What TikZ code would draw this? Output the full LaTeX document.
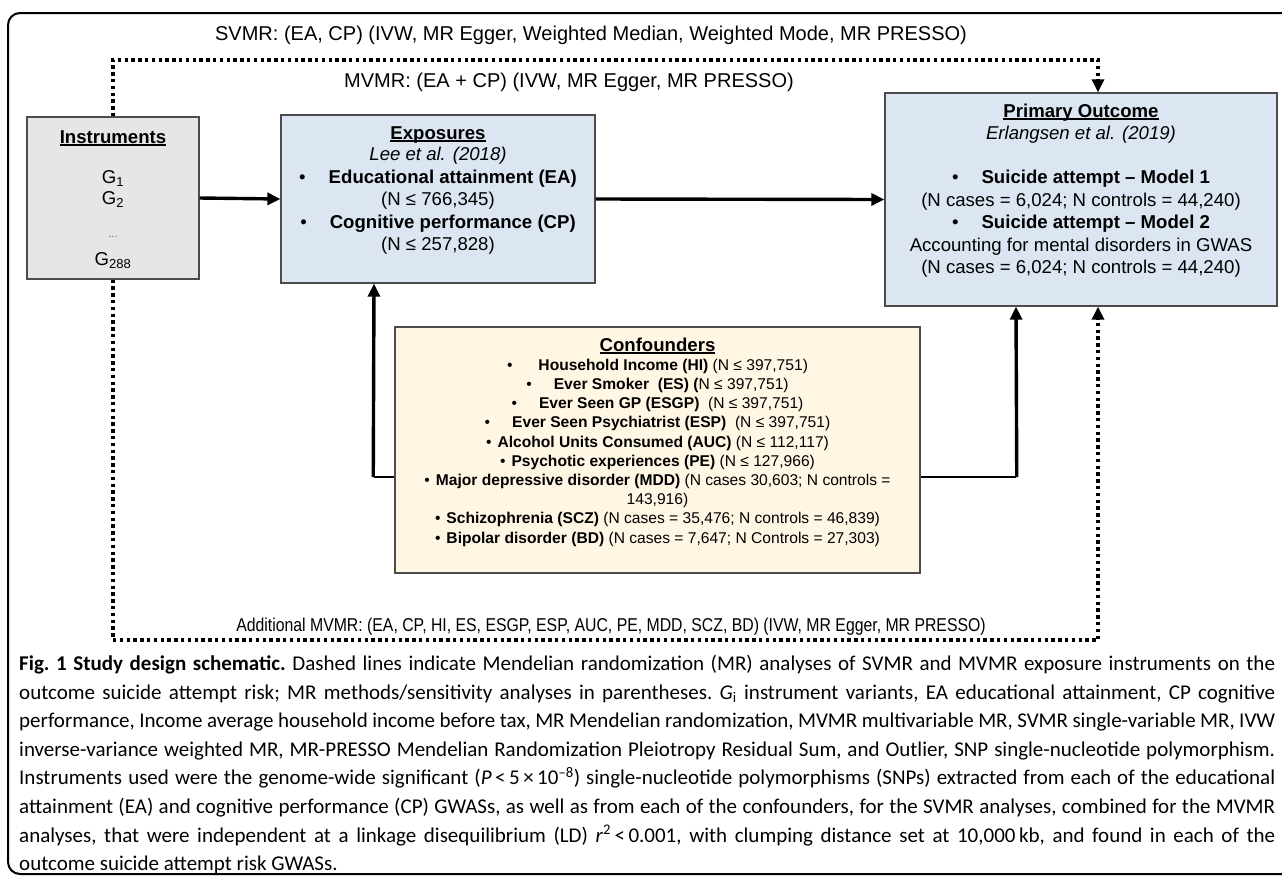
\documentclass[tikz,border=0pt]{standalone}
\usepackage{fontspec}
\setmainfont{Liberation Sans}
\newfontfamily\capfont{Carlito}
\newfontfamily\narrowfont[FakeStretch=0.85]{Liberation Sans}
\usepackage{xcolor}
\usetikzlibrary{arrows.meta}
% underlined box title
\newcommand{\titleul}[1]{\leavevmode\setbox0\hbox{#1}\rlap{\rule[-2.6pt]{\wd0}{1.4pt}}\box0}

\begin{document}
\begin{tikzpicture}[x=1pt, y=-1pt,
  box/.style={rectangle, draw=black!70, line width=1.3pt, inner sep=0pt},
  boxtxt/.style={anchor=base, inner sep=0pt, font=\fontsize{18.6}{22}\selectfont},
  conftxt/.style={anchor=base, inner sep=0pt, font=\fontsize{15.6}{19}\selectfont},
  mrlabel/.style={anchor=base, inner sep=0pt, font=\fontsize{20}{24}\selectfont},
  solidarrow/.style={line width=3.4pt, -{Triangle[length=13pt,width=12pt]}},
  dotarrow/.style={line width=3.4pt, dash pattern=on 3.4pt off 3.4pt, -{Triangle[length=13pt,width=12pt]}}]
\definecolor{instrgray}{HTML}{E6E6E6}
\definecolor{paleblue}{HTML}{DCE6F2}
\definecolor{cream}{HTML}{FFF6E3}
\useasboundingbox (0,0) rectangle (1282,879);
\draw[line width=2pt, rounded corners=12pt] (8,13) rectangle (1300,874);

% boxes
\node[box, fill=instrgray, minimum width=172pt, minimum height=162pt] (instr) at (113,198) {};
\node[box, fill=paleblue, minimum width=314pt, minimum height=168pt] (expo) at (438,199) {};
\node[box, fill=paleblue, minimum width=392pt, minimum height=213pt] (outc) at (1081,199.5) {};
\node[box, fill=cream, minimum width=525pt, minimum height=246pt] (conf) at (657.5,450) {};

% instruments
\node[boxtxt] (instr-title) at (113,143) {\titleul{\textbf{Instruments}}};
\foreach \g/\ypos [count=\i] in {1/183, 2/204, 288/265}
  \node[boxtxt] (instr-g\i) at (113,\ypos) {G\textsubscript{\g}};
\node[boxtxt, font=\fontsize{11}{11}\selectfont, text=black!60] (instr-dots) at (113,237) {...};

% exposures
\foreach \txt/\ypos [count=\i] in {{\titleul{\textbf{Exposures}}}/139, {\textit{Lee et al. (2018)}}/160,
    {•\hspace{23pt}\textbf{Educational attainment (EA)}}/183, {(N ≤ 766,345)}/205,
    {•\hspace{23pt}\textbf{Cognitive performance (CP)}}/228, {(N ≤ 257,828)}/250}
  \node[boxtxt] (expo-\i) at (438,\ypos) {\txt};

% outcome
\foreach \txt/\ypos [count=\i] in {{\titleul{\textbf{Primary Outcome}}}/117, {\textit{Erlangsen et al. (2019)}}/139,
    {•\hspace{23pt}\textbf{Suicide attempt – Model 1}}/183, {(N cases = 6,024; N controls = 44,240)}/206,
    {•\hspace{23pt}\textbf{Suicide attempt – Model 2}}/228, {Accounting for mental disorders in GWAS}/251,
    {(N cases = 6,024; N controls = 44,240)}/273}
  \node[boxtxt] (outc-\i) at (1081,\ypos) {\txt};

% confounders
\node[boxtxt] (conf-title) at (657.5,351) {\titleul{\textbf{Confounders}}};
\foreach \txt [count=\i] in {
    {•\hspace{26pt}\textbf{Household Income (HI)} (N ≤ 397,751)},
    {•\hspace{22pt}\textbf{Ever Smoker\ \ (ES) (}N ≤ 397,751)},
    {•\hspace{22pt}\textbf{Ever Seen GP (ESGP)}\ \ (N ≤ 397,751)},
    {•\hspace{22pt}\textbf{Ever Seen Psychiatrist (ESP)}\ \ (N ≤ 397,751)},
    {•\hspace{6pt}\textbf{Alcohol Units Consumed (AUC)} (N ≤ 112,117)},
    {•\hspace{6pt}\textbf{Psychotic experiences (PE)} (N ≤ 127,966)},
    {•\hspace{6pt}\textbf{Major depressive disorder (MDD)} (N cases 30,603; N controls =},
    {143,916)},
    {•\hspace{6pt}\textbf{Schizophrenia (SCZ)} (N cases = 35,476; N controls = 46,839)},
    {•\hspace{6pt}\textbf{Bipolar disorder (BD)} (N cases = 7,647; N Controls = 27,303)}}
  \node[conftxt] (conf-\i) at (657.5,351+19.2*\i) {\txt};

% MR labels
\node[mrlabel] (svmr) at (591,40) {SVMR: (EA, CP) (IVW, MR Egger, Weighted Median, Weighted Mode, MR PRESSO)};
\node[mrlabel] (mvmr) at (569,87) {MVMR: (EA + CP) (IVW, MR Egger, MR PRESSO)};
\node[mrlabel, font=\narrowfont\fontsize{18.6}{22}\selectfont] (addmvmr) at (611,631)
  {Additional MVMR: (EA, CP, HI, ES, ESGP, ESP, AUC, PE, MDD, SCZ, BD) (IVW, MR Egger, MR PRESSO)};

% connectors
\draw[solidarrow] (instr.east) -- (expo.west);
\draw[solidarrow] (expo.east) -- (outc.west);
\coordinate (elbowL) at (374,477);
\coordinate (elbowR) at (1016,477);
\draw[line width=1.5pt] ([yshift=-27pt]conf.west) -- (elbowL);
\draw[solidarrow] ([xshift=-0.75pt]elbowL) -- (elbowL |- expo.south);
\draw[line width=1.5pt] ([yshift=-27pt]conf.east) -- (elbowR);
\draw[solidarrow] ([xshift=0.75pt]elbowR) -- (elbowR |- outc.south);
\coordinate (topR) at (1098,60);
\coordinate (botR) at (1098,640);
\draw[dotarrow] (instr.north) |- (topR) -- (topR |- outc.north);
\draw[dotarrow] (instr.south) |- (botR) -- (botR |- outc.south);

% caption
\node[anchor=north west, inner sep=0pt, text width=1256pt, align=justify,
  font=\capfont\fontsize{21}{28.6}\selectfont] (caption) at (19,655) {\frenchspacing\hyphenpenalty=10000\exhyphenpenalty=10000
\textbf{Fig.\ 1 Study design schematic.} Dashed lines indicate Mendelian randomization (MR) analyses of SVMR and MVMR exposure instruments on the\linebreak
outcome suicide attempt risk; MR methods/sensitivity analyses in parentheses. \textit{G}\textsubscript{i} instrument variants, EA educational attainment, CP cognitive\linebreak
performance, Income average household income before tax, MR Mendelian randomization, MVMR multivariable MR, SVMR single-variable MR, IVW\linebreak
inverse-variance weighted MR, MR-PRESSO Mendelian Randomization Pleiotropy Residual Sum, and Outlier, SNP single-nucleotide polymorphism.\linebreak
Instruments used were the genome-wide significant (\textit{P}\,<\,5\,×\,10\textsuperscript{–8}) single-nucleotide polymorphisms (SNPs) extracted from each of the educational\linebreak
attainment (EA) and cognitive performance (CP) GWASs, as well as from each of the confounders, for the SVMR analyses, combined for the MVMR\linebreak
analyses, that were independent at a linkage disequilibrium (LD) \textit{r}\textsuperscript{2}\,<\,0.001, with clumping distance set at 10,000\,kb, and found in each of the\linebreak
outcome suicide attempt risk GWASs.};
\end{tikzpicture}
\end{document}
